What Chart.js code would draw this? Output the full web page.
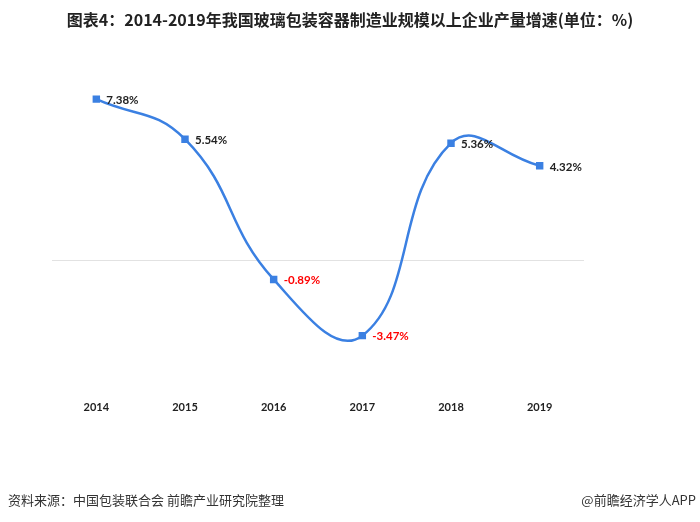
<!DOCTYPE html>
<html>
<head>
<meta charset="utf-8">
<script src="https://cdn.jsdelivr.net/npm/chart.js@4"></script>
<style>
  html, body { margin: 0; padding: 0; background: #fff; }
  #wrap { position: relative; width: 700px; height: 522px; }
</style>
</head>
<body>
<div id="wrap"><canvas id="myChart" width="700" height="522"></canvas></div>
<script>
var years = ['2014', '2015', '2016', '2017', '2018', '2019'];
var growth = [7.38, 5.54, -0.89, -3.47, 5.36, 4.32];
var titleText = '图表4：2014-2019年我国玻璃包装容器制造业规模以上企业产量增速(单位：%)';
var sourceText = '资料来源：中国包装联合会 前瞻产业研究院整理';
var brandText = '@前瞻经济学人APP';

var lineBlue = '#3b80e2';
var fontFam = '"Noto Sans CJK SC", "Noto Sans", sans-serif';
var numFont = 'Lato, "Liberation Sans", sans-serif';

// zero line, point labels, title and footer
const extras = {
  id: 'extras',
  beforeDatasetsDraw(chart) {
    const ctx = chart.ctx;
    const y0 = chart.scales.y.getPixelForValue(0);
    ctx.save();
    ctx.strokeStyle = '#e2e2e2';
    ctx.lineWidth = 1;
    ctx.beginPath();
    ctx.moveTo(chart.chartArea.left, Math.round(y0) + 0.5);
    ctx.lineTo(chart.chartArea.right, Math.round(y0) + 0.5);
    ctx.stroke();
    ctx.restore();
  },
  afterDatasetsDraw(chart) {
    const ctx = chart.ctx;
    const meta = chart.getDatasetMeta(0);
    ctx.save();
    ctx.font = 'bold 11.5px ' + numFont;
    ctx.textBaseline = 'middle';
    ctx.textAlign = 'left';
    meta.data.forEach((pt, i) => {
      let v = growth[i];
      ctx.fillStyle = v < 0 ? '#ff0000' : '#222222';
      ctx.fillText(v.toFixed(2) + '%', pt.x + 10, pt.y + 1);
    });
    ctx.restore();
  },
  afterDraw(chart) {
    const ctx = chart.ctx;
    ctx.save();
    ctx.fillStyle = '#222';
    ctx.font = 'bold 16px ' + fontFam;
    ctx.textAlign = 'center';
    ctx.textBaseline = 'middle';
    ctx.fillText(titleText, 350, 20);
    ctx.font = '13px ' + fontFam;
    ctx.fillStyle = '#333';
    ctx.textAlign = 'left';
    ctx.fillText(sourceText, 8, 500);
    ctx.textAlign = 'right';
    ctx.fillText(brandText, 696, 500);
    ctx.restore();
  }
};

let chartOne = document.getElementById('myChart');

const myChart = new Chart(chartOne, {
  type: 'line',
  data: {
    labels: years,
    datasets: [{
      data: growth,
      borderColor: lineBlue,
      backgroundColor: lineBlue,
      borderWidth: 2.5,
      tension: 0.45,
      fill: false,
      pointStyle: 'rect',
      pointRadius: 3.5,
      pointHoverRadius: 3.5
    }]
  },
  options: {
    responsive: false,
    animation: false,
    events: [],
    layout: {padding: {left: 52, right: 116, top: 42, bottom: 98}},
    plugins: {
      legend: {display: false},
      tooltip: {enabled: false}
    },
    scales: {
      x: {
        offset: true,
        grid: {display: false, drawTicks: false},
        border: {display: false},
        ticks: {
          padding: 10,
          color: '#222',
          font: {family: numFont, size: 11, weight: 'bold'}
        }
      },
      y: {
        display: false,
        min: -6,
        max: 10
      }
    }
  },
  plugins: [extras]
});
</script>
</body>
</html>
